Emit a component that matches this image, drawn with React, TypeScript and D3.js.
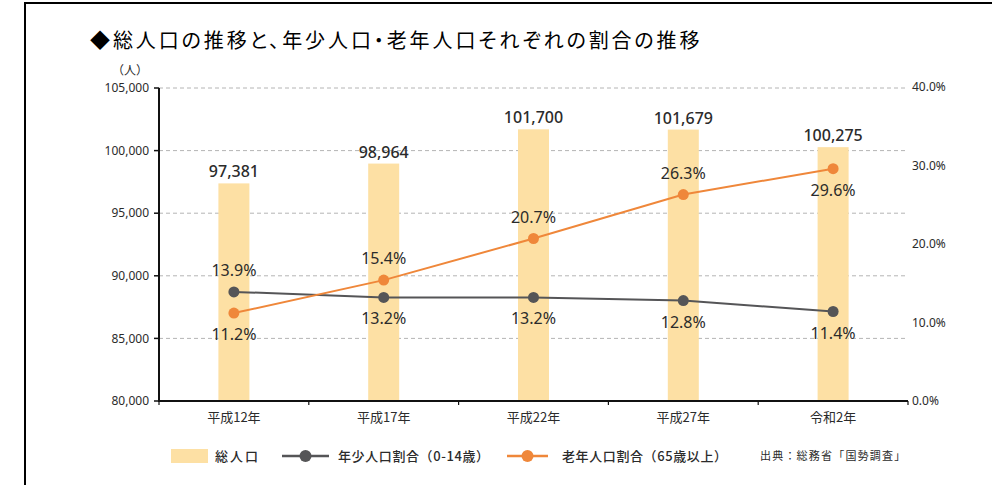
import React from "react";
import * as d3 from "d3";

const categories = ["平成12年", "平成17年", "平成22年", "平成27年", "令和2年"];
const population = [97381, 98964, 101700, 101679, 100275];
const youthShare = [13.9, 13.2, 13.2, 12.8, 11.4];
const elderlyShare = [11.2, 15.4, 20.7, 26.3, 29.6];
const youthLabelPos = ["above", "below", "below", "below", "below"];
const elderlyLabelPos = ["below", "above", "above", "above", "below"];
const leftTicks = [80000, 85000, 90000, 95000, 100000, 105000];
const rightTicks = [0, 10, 20, 30, 40];

const TITLE = "◆総人口の推移と、年少人口・老年人口それぞれの割合の推移";
const SOURCE = "出典：総務省「国勢調査」";

const FONT = "'Noto Sans', 'Noto Sans CJK JP', sans-serif";
const JFONT = "'Noto Sans CJK JP', 'Noto Sans', sans-serif";
const BAR = "#fde0a4";
const GRAY = "#555557";
const ORANGE = "#ef873a";
const TEXT = "#2b2b2b";

export default function App() {
  const W = 992, H = 485;
  const left = 159, right = 908, top = 88, bottom = 401;
  const x = d3.scaleBand<string>().domain(categories).range([left, right]).padding(0);
  const yL = d3.scaleLinear().domain([80000, 105000]).range([bottom, top]);
  const yR = d3.scaleLinear().domain([0, 40]).range([bottom, 87]);
  const cx = (c: string) => (x(c) as number) + x.bandwidth() / 2;
  const barW = 31;
  const fmt = d3.format(",");
  const line = d3.line<number>().x((_, i) => cx(categories[i])).y((d) => yR(d));

  const pctLabel = (v: number, i: number, pos: string) => {
    const py = yR(v);
    return (
      <text key={i} x={cx(categories[i])} y={pos === "above" ? py - 16 : py + 27}
        textAnchor="middle" fontSize={16} fill={TEXT} fontFamily={FONT}>
        {v.toFixed(1)}%
      </text>
    );
  };

  return (
    <svg width={W} height={H} style={{ position: "absolute", left: 0, top: 0, background: "#fff" }}>
      <rect x={0} y={0} width={W} height={H} fill="#fff" />
      {/* frame */}
      <path d={`M25,${H + 5} V3 H${W + 5}`} fill="none" stroke="#000" strokeWidth={2} />
      <text x={90} y={48} fontSize={20} letterSpacing={2.9} fontFamily={JFONT} fill="#000"
        style={{ fontFeatureSettings: '"palt"' }}>{TITLE}</text>
      <text x={130} y={75} fontSize={12} fontFamily={JFONT} fill={TEXT} textAnchor="middle">（人）</text>

      {/* gridlines */}
      {leftTicks.filter((t) => t > 80000).map((t) => (
        <line key={t} x1={left} x2={right - 2} y1={yL(t)} y2={yL(t)} stroke="#b4b4b4" strokeWidth={1} strokeDasharray="4,3" />
      ))}

      {/* bars */}
      {categories.map((c, i) => (
        <rect key={c} x={cx(c) - barW / 2} y={yL(population[i])} width={barW} height={bottom - yL(population[i])} fill={BAR} />
      ))}
      {categories.map((c, i) => (
        <text key={c} x={cx(c)} y={yL(population[i]) - 6} textAnchor="middle" fontSize={16} fontWeight={500} fill={TEXT} fontFamily={FONT}>
          {fmt(population[i])}
        </text>
      ))}

      {/* left axis */}
      <line x1={left} x2={left} y1={top} y2={bottom} stroke="#111" strokeWidth={2} />
      {leftTicks.map((t) => (
        <g key={t}>
          <line x1={left - 5} x2={left} y1={yL(t)} y2={yL(t)} stroke="#111" strokeWidth={1.5} />
          <text x={149} y={yL(t)} dy="0.35em" textAnchor="end" fontSize={12} fill={TEXT} fontFamily={FONT}>{fmt(t)}</text>
        </g>
      ))}
      {/* right labels */}
      {rightTicks.map((t) => (
        <text key={t} x={912} y={yR(t)} dy="0.35em" fontSize={12} fill={TEXT} fontFamily={FONT}>{t.toFixed(1)}%</text>
      ))}
      {/* bottom axis */}
      <line x1={left - 1} x2={right} y1={bottom} y2={bottom} stroke="#111" strokeWidth={2} />
      {categories.map((c) => (
        <line key={c} x1={x(c) as number} x2={x(c) as number} y1={bottom} y2={bottom + 4} stroke="#111" strokeWidth={1.2} />
      ))}
      <line x1={right} x2={right} y1={bottom} y2={bottom + 4} stroke="#111" strokeWidth={1.2} />
      {categories.map((c) => (
        <text key={c} x={cx(c)} y={422} textAnchor="middle" fontSize={13} fill={TEXT} fontFamily={JFONT}>{c}</text>
      ))}

      {/* lines */}
      <path d={line(youthShare) || ""} fill="none" stroke={GRAY} strokeWidth={2} />
      <path d={line(elderlyShare) || ""} fill="none" stroke={ORANGE} strokeWidth={2} />
      {youthShare.map((v, i) => (
        <circle key={"y" + i} cx={cx(categories[i])} cy={yR(v)} r={5.5} fill={GRAY} />
      ))}
      {elderlyShare.map((v, i) => (
        <circle key={"e" + i} cx={cx(categories[i])} cy={yR(v)} r={5.5} fill={ORANGE} />
      ))}
      {youthShare.map((v, i) => pctLabel(v, i, youthLabelPos[i]))}
      {elderlyShare.map((v, i) => pctLabel(v, i, elderlyLabelPos[i]))}

      {/* legend */}
      <rect x={171} y={449} width={37} height={14} fill={BAR} />
      <text x={215} y={460.5} fontSize={13} fontWeight={500} letterSpacing={2} fill={TEXT} fontFamily={JFONT}>総人口</text>
      <line x1={282} x2={329} y1={456} y2={456} stroke={GRAY} strokeWidth={2.5} />
      <circle cx={305.5} cy={456} r={6} fill={GRAY} />
      <text x={338} y={460.5} fontSize={13} fontWeight={500} letterSpacing={0.6} fill={TEXT} fontFamily={JFONT}>年少人口割合（0-14歳）</text>
      <line x1={507} x2={548} y1={456} y2={456} stroke={ORANGE} strokeWidth={2.5} />
      <circle cx={527.5} cy={456} r={6} fill={ORANGE} />
      <text x={562} y={460.5} fontSize={13} fontWeight={500} letterSpacing={0.6} fill={TEXT} fontFamily={JFONT}>老年人口割合（65歳以上）</text>
      <text x={760} y={460} fontSize={11} letterSpacing={1.2} fill={TEXT} fontFamily={JFONT}>{SOURCE}</text>
    </svg>
  );
}
